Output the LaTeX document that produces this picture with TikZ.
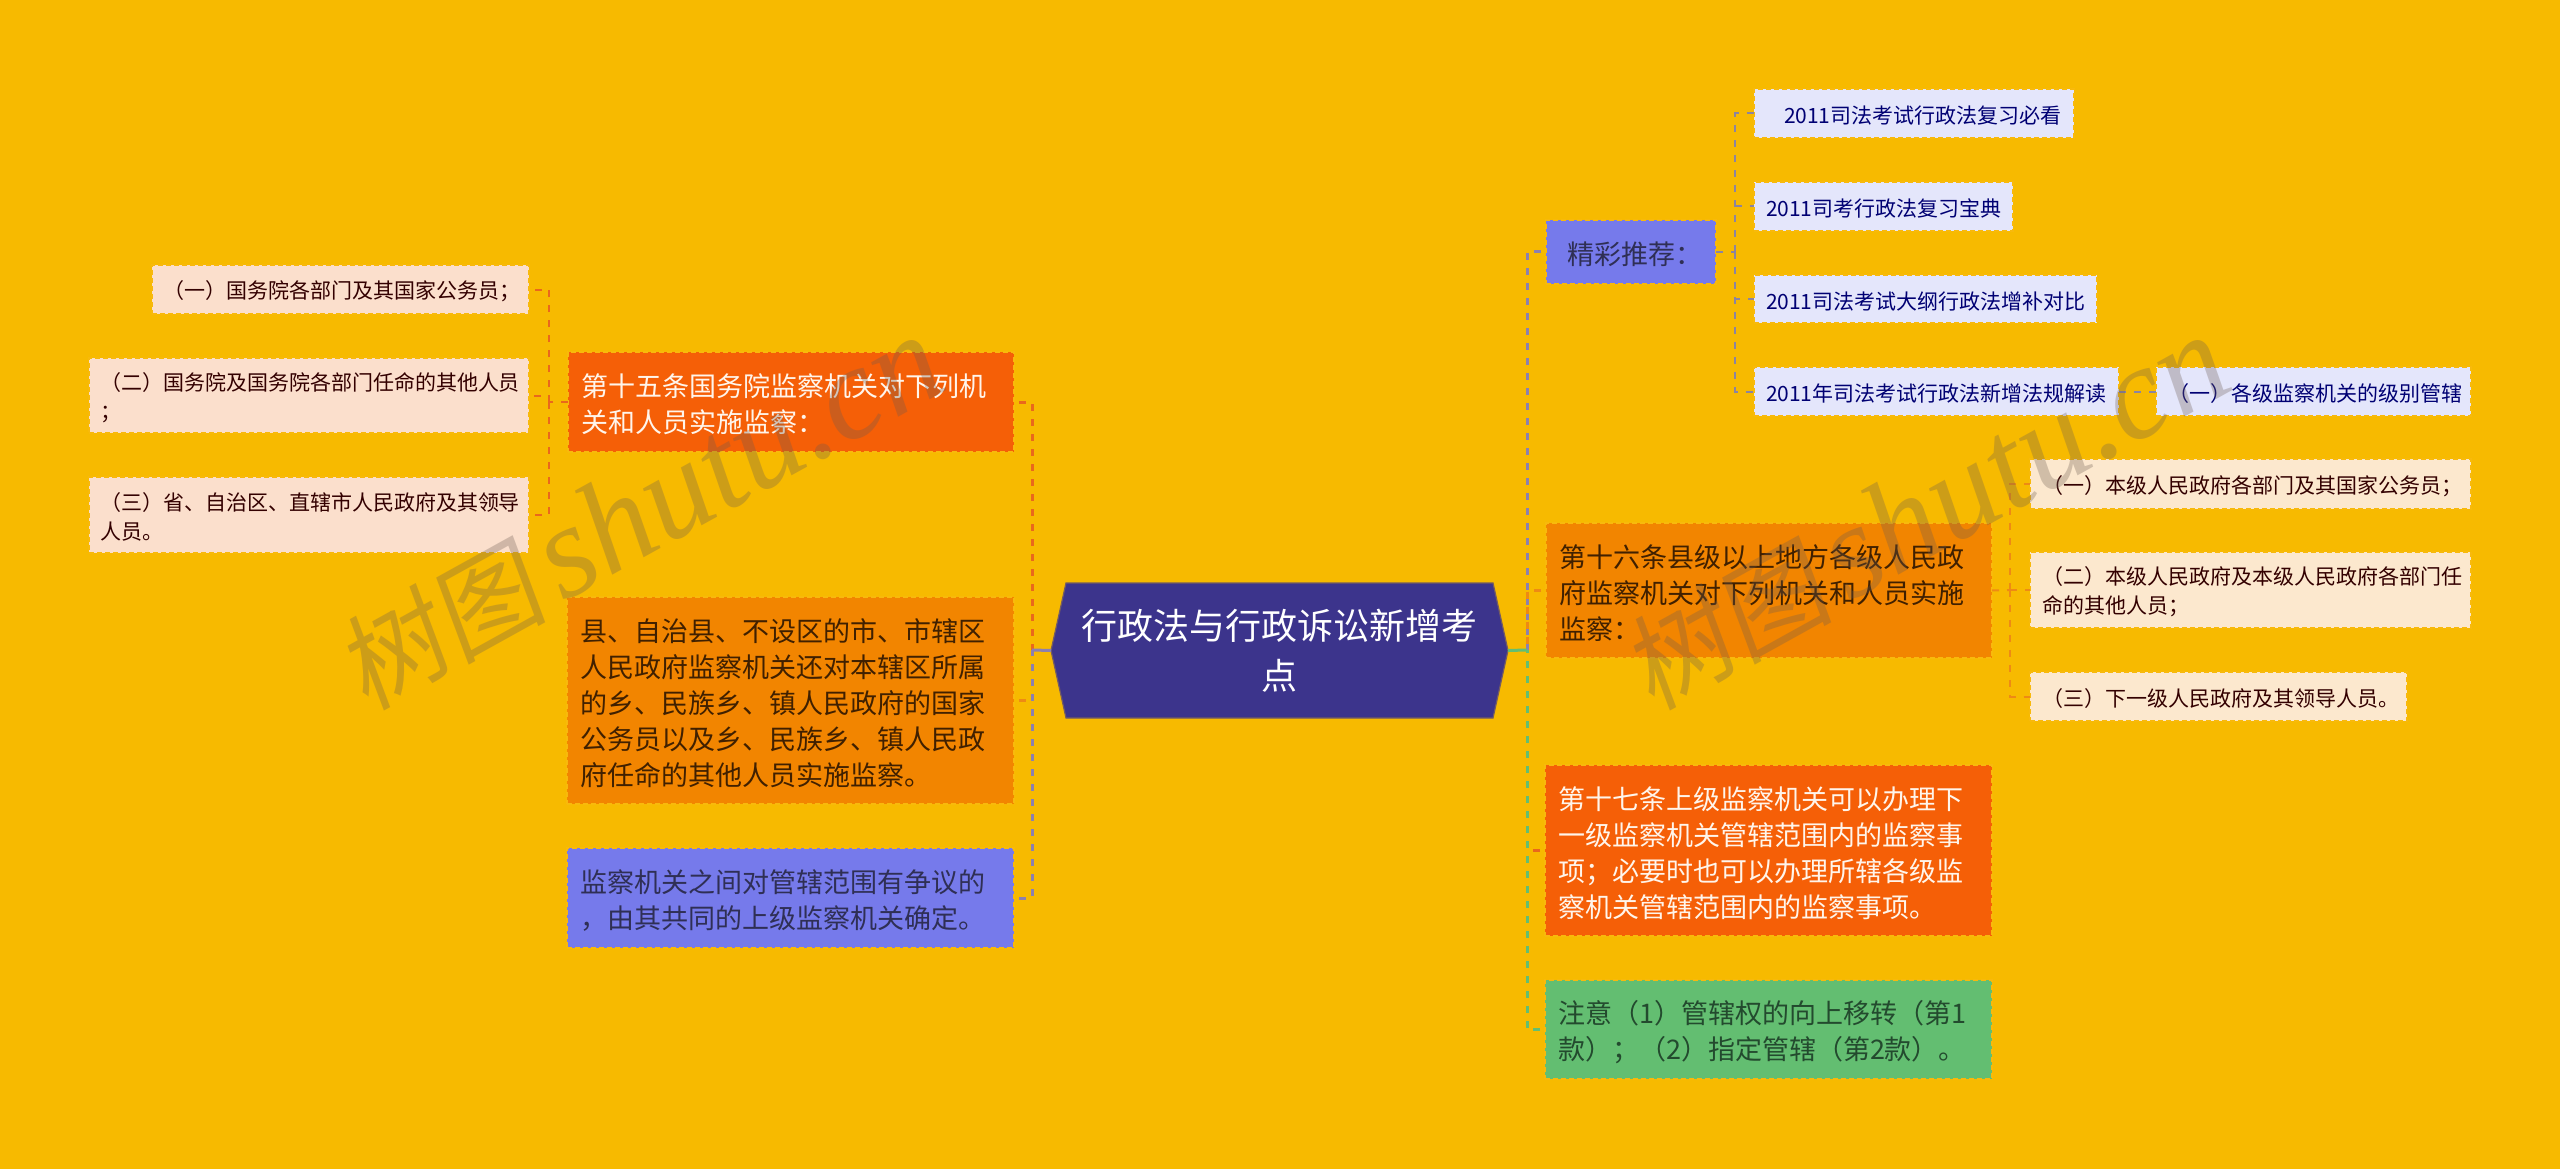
\documentclass[tikz,border=0pt]{standalone}
\usepackage{fontspec}
\setmainfont{Noto Sans CJK SC}
\newfontfamily\wmlatin{Liberation Serif}
\newfontfamily\wmcjk[FakeSlant=0.15]{Noto Sans CJK SC}
\usetikzlibrary{backgrounds}
\definecolor{bgc}{HTML}{F7BA00}
\definecolor{redo}{HTML}{F55F07}
\definecolor{oran}{HTML}{F28500}
\definecolor{purp}{HTML}{767AEB}
\definecolor{navy}{HTML}{3C348C}
\definecolor{gree}{HTML}{63BE71}
\definecolor{peachL}{HTML}{FBDFCC}
\definecolor{peachR}{HTML}{FCE8CE}
\definecolor{lav}{HTML}{E4E6FB}
\definecolor{edgec}{HTML}{F8B90C}
\definecolor{lnred}{HTML}{E9681C}
\definecolor{lnora}{HTML}{EE8A14}
\definecolor{lnpur}{HTML}{8C80B0}
\definecolor{lnlav}{HTML}{8C84A0}
\definecolor{lngre}{HTML}{63BE71}
\definecolor{wmc}{HTML}{6B5A50}
\definecolor{txpur}{HTML}{2F2F55}
\definecolor{txgre}{HTML}{234A2E}
\tikzset{
  tbox/.style={anchor=west,outer sep=0pt,inner xsep=12pt,inner ysep=0pt,align=left,
    draw=edgec,line width=1.5pt,dash pattern=on 5pt off 3pt},
  big/.style={tbox,inner xsep=13pt,font=\fontsize{27}{36}\selectfont,
    execute at begin node={\rule{0pt}{28pt}}},
  small/.style={tbox,font=\fontsize{21}{29}\selectfont,
    execute at begin node={\rule{0pt}{22pt}}},
  boxred/.style={big,fill=redo,text=white!92!orange},
  boxora/.style={big,fill=oran,text=black!75!orange},
  boxpur/.style={big,fill=purp,text=txpur},
  boxgre/.style={big,fill=gree,text=txgre},
  boxpl/.style={small,inner xsep=11pt,fill=peachL,text=black!80!red},
  boxpr/.style={small,fill=peachR,text=black!80!red},
  boxlav/.style={small,fill=lav,text=blue!45!black},
  trunk/.style={line width=3pt,dash pattern=on 7pt off 8pt},
  twig/.style={line width=2pt,dash pattern=on 7pt off 8pt},
  mainstub/.style={line width=3pt},
  mainbox/.style={font=\fontsize{36}{50}\selectfont,text=white,align=center,inner sep=0pt,
    minimum width=457pt,minimum height=135pt,outer sep=0pt},
  wm/.style={anchor=base west,rotate=29,text=wmc,text opacity=0.3,inner sep=0pt,
    font=\fontsize{105}{120}\selectfont}
}
\newcommand{\wmtext}{{\wmcjk 树图}\hspace{16pt}{\fontsize{132}{150}\selectfont\wmlatin\itshape shutu.cn}}
\begin{document}
\begin{tikzpicture}[x=1pt,y=-1pt]
\useasboundingbox (0,0) rectangle (2560,1169);
\begin{scope}[on background layer]
\fill[bgc] (0,0) rectangle (2560,1169);
\end{scope}
% centre
\node (main) [mainbox] at (1279.5,650.5) {行政法与行政诉讼新增考\\点};
\begin{scope}[on background layer]
\filldraw[fill=navy,draw=navy!70!bgc,line width=1.2pt]
  (main.west) -- ([xshift=15pt]main.north west) -- ([xshift=-15pt]main.north east)
  -- (main.east) -- ([xshift=-15pt]main.south east) -- ([xshift=15pt]main.south west) -- cycle;
\end{scope}
% left branch
\node (n15) [boxred,text width=420pt,minimum height=100pt] at (568,402) {第十五条国务院监察机关对下列机\\关和人员实施监察：};
\node (ncty) [boxora,text width=421pt,minimum height=207pt] at (567,700.5) {县、自治县、不设区的市、市辖区\\人民政府监察机关还对本辖区所属\\的乡、民族乡、镇人民政府的国家\\公务员以及乡、民族乡、镇人民政\\府任命的其他人员实施监察。};
\node (nzhen) [boxpur,text width=421pt,minimum height=100pt] at (567,898) {监察机关之间对管辖范围有争议的\\，由其共同的上级监察机关确定。};
\node (l1) [boxpl,text width=355pt,minimum height=49pt] at (152,289.5) {（一）国务院各部门及其国家公务员；};
\node (l2) [boxpl,text width=418pt,minimum height=75pt] at (89,395.5) {（二）国务院及国务院各部门任命的其他人员\\；};
\node (l3) [boxpl,text width=418pt,minimum height=76pt] at (89,515) {（三）省、自治区、直辖市人民政府及其领导\\人员。};
% right branch
\node (njc) [boxpur,text width=144pt,minimum height=64pt] at (1546,252) {\hspace{8pt}精彩推荐：};
\node (n16) [boxora,text width=420pt,minimum height=135pt] at (1546,590.5) {第十六条县级以上地方各级人民政\\府监察机关对下列机关和人员实施\\监察：};
\node (n17) [boxred,text width=421pt,minimum height=171pt] at (1545,850.5) {第十七条上级监察机关可以办理下\\一级监察机关管辖范围内的监察事\\项；必要时也可以办理所辖各级监\\察机关管辖范围内的监察事项。};
\node (nzy) [boxgre,text width=421pt,minimum height=99pt] at (1545,1029.5) {注意（1）管辖权的向上移转（第1\\款）；（2）指定管辖（第2款）。};
\node (r1) [boxlav,text width=296pt,minimum height=49pt] at (1754,113.5) {\hspace{18pt}2011司法考试行政法复习必看};
\node (r2) [boxlav,text width=235pt,minimum height=49pt] at (1754,206.5) {2011司考行政法复习宝典};
\node (r3) [boxlav,text width=319pt,minimum height=48pt] at (1754,299) {2011司法考试大纲行政法增补对比};
\node (r4) [boxlav,text width=341pt,minimum height=49pt] at (1754,391.5) {2011年司法考试行政法新增法规解读};
\node (r4a) [boxlav,text width=291pt,minimum height=49pt] at (2156,391.5) {（一）各级监察机关的级别管辖};
\node (ra) [boxpr,text width=417pt,minimum height=50pt] at (2030,484) {（一）本级人民政府各部门及其国家公务员；};
\node (rb) [boxpr,text width=417pt,minimum height=76pt] at (2030,590) {（二）本级人民政府及本级人民政府各部门任\\命的其他人员；};
\node (rc) [boxpr,text width=353pt,minimum height=49pt] at (2030,696.5) {（三）下一级人民政府及其领导人员。};
% junctions
\coordinate (jl) at (1032,650);
\coordinate (jr) at (1527,650);
\coordinate (j15) at (549,402);
\coordinate (jjc) at (1735,252);
\coordinate (j16) at (2010,590);
% main connectors
\draw[trunk,lnred] ([xshift=5pt]n15.east) -| (jl);
\draw[trunk,lnora] ([xshift=5pt]ncty.east) -- ++(10,0);
\draw[trunk,lnpur] ([xshift=5pt]nzhen.east) -| (jl);
\draw[trunk,lnpur] ([xshift=-5pt]njc.west) -| (jr);
\draw[trunk,lnora] ([xshift=-5pt]n16.west) -| (jr);
\draw[trunk,lnred] ([xshift=-5pt]n17.west) -- ++(-8,0);
\draw[trunk,lngre] ([xshift=-5pt]nzy.west) -| (jr);
\draw[mainstub,lnpur] (main.west) -- (jl);
\draw[mainstub,lngre] (main.east) -- (jr);
% second level
\draw[twig,lnred] (n15.west) -- (j15);
\draw[twig,lnred] (j15) |- ([xshift=5pt]l1.east);
\draw[twig,lnred] (j15) |- ([xshift=5pt]l2.east);
\draw[twig,lnred] (j15) |- ([xshift=5pt]l3.east);
\draw[twig,lnlav] (njc.east) -- (jjc);
\draw[twig,lnlav] (jjc) |- (r1.west);
\draw[twig,lnlav] (jjc) |- (r2.west);
\draw[twig,lnlav] (jjc) |- (r3.west);
\draw[twig,lnlav] (jjc) |- (r4.west);
\draw[twig,lnlav] (r4.east) -- (r4a.west);
\draw[twig,lnora] (n16.east) -- (j16);
\draw[twig,lnora] (j16) |- (ra.west);
\draw[twig,lnora] (j16) -- (rb.west);
\draw[twig,lnora] (j16) |- (rc.west);
% watermarks
\node (wm1) [wm] at (366,712) {\wmtext};
\node (wm2) [wm] at (1652,712) {\wmtext};
\end{tikzpicture}
\end{document}
